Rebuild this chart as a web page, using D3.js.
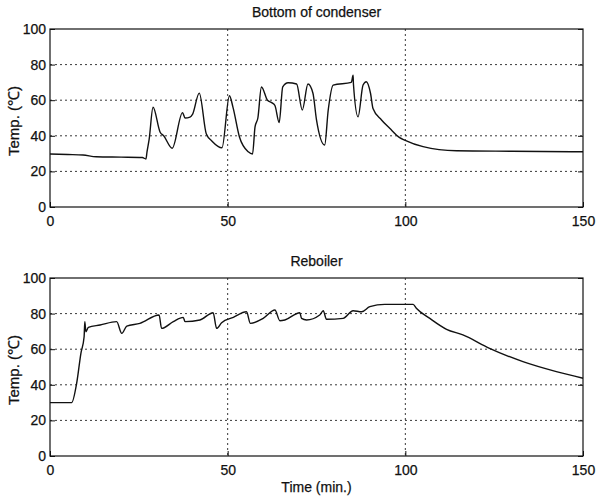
<!DOCTYPE html>
<html>
<head>
<meta charset="utf-8">
<script src="https://cdn.jsdelivr.net/npm/d3@7"></script>
<style>
  body { margin: 0; background: #fff; }
  text { font-family: "Liberation Sans", Arial, sans-serif; fill: #111; stroke: #111; stroke-width: 0.25px; }
  .tick text { font-size: 14px; }
  .grid line { stroke: #222; stroke-width: 0.9; stroke-dasharray: 2,3; }
</style>
</head>
<body>
<svg width="596" height="497"></svg>
<script>
// time (min) and temperature (deg C)
const condTime = [0, 5, 9.3, 13, 20, 26, 27, 27.3, 27.9, 29, 31, 32, 34.4, 37.3, 38, 39.4, 40.1, 42, 44, 45.6, 48.4,
  50.5, 51.5, 53.3, 55.8, 57, 57.7, 58.5, 59.5, 61.2, 62.5, 63.3, 64.5, 65.5, 67, 69.4, 71, 72.6, 74, 75, 77.3,
  78.3, 79.7, 84.8, 85.3, 85.4, 86.7, 88.1, 89, 90.2, 90.9, 93.3, 95.6, 98.4, 99.8, 105, 114.4, 130, 150];
const condTemp = [29.8, 29.5, 29.2, 28.2, 28, 27.8, 27, 31, 38, 56, 42, 40, 33, 53, 50, 50.5, 52, 64, 41, 37, 33.3,
  62.5, 56, 39.5, 31, 29.8, 45, 50, 67.4, 60, 58.5, 57, 47.5, 67.5, 69.8, 69.1, 54.5, 69.1, 63.9, 48.9, 34.8,
  54.5, 68.5, 70, 74, 69, 50.7, 68.5, 70.4, 63.9, 55.4, 48.9, 44.2, 39, 37.6, 33.9, 31.6, 31.3, 31];

const reboTime = [0, 6.1, 7.5, 8.7, 9.6, 9.8, 10.1, 10.8, 14.1, 18.75, 20.2, 21.6, 25.3, 30.7, 31.4, 34.7, 37.5,
  38, 42.2, 45.9, 46.9, 48.3, 51.6, 55.3, 56.4, 60, 63.3, 64.7, 66.1, 70.3, 70.8, 72.2, 75.9, 76.9, 77.8, 82.5,
  85.3, 87.7, 90, 94.2, 102.2, 103.1, 106.9, 111.6, 116.2, 123.7, 133.1, 142.5, 150];
const reboTemp = [30, 30, 40.8, 57.7, 67, 75.5, 69.8, 72.3, 73.6, 75.5, 68.9, 73, 74.5, 79.2, 71.7, 75.5, 77.9,
  75.5, 76.4, 80.5, 71.7, 74.9, 77.9, 81, 74.5, 77.3, 82, 76, 76.4, 80.5, 77.3, 76.4, 79.2, 81.6, 76.8, 77.3,
  81.6, 81, 83.9, 85.2, 85.2, 83, 77.3, 71.2, 68, 60.5, 53, 47.4, 43.7];

const xTicks = [0, 50, 100, 150];
const yTicks = [0, 20, 40, 60, 80, 100];

const svg = d3.select("svg");
const left = 50, right = 583;

const x = d3.scaleLinear().domain([0, 150]).range([left, right]);

function panel(top, bottom, title, times, temps, showXLabel) {
  const y = d3.scaleLinear().domain([0, 100]).range([bottom, top]);
  const g = svg.append("g");

  // grid
  g.append("g").attr("class", "grid")
    .selectAll("line").data(yTicks.slice(1, -1)).join("line")
    .attr("x1", left).attr("x2", right)
    .attr("y1", d => y(d)).attr("y2", d => y(d));
  g.append("g").attr("class", "grid")
    .selectAll("line").data(xTicks.slice(1, -1)).join("line")
    .attr("x1", d => x(d)).attr("x2", d => x(d))
    .attr("y1", top).attr("y2", bottom);

  // axes
  g.append("g")
    .attr("transform", "translate(0," + bottom + ")")
    .call(d3.axisBottom(x).tickValues(xTicks).tickSize(-5).tickPadding(9))
    .call(a => a.select(".domain").remove());
  g.append("g")
    .attr("transform", "translate(" + left + ",0)")
    .call(d3.axisLeft(y).tickValues(yTicks).tickSize(-5).tickPadding(4))
    .call(a => a.select(".domain").remove());
  g.append("g")
    .attr("transform", "translate(" + right + ",0)")
    .call(d3.axisRight(y).tickValues(yTicks).tickSize(-5).tickFormat(""))
    .call(a => a.select(".domain").remove());
  g.selectAll(".tick line").attr("stroke", "#111");

  g.append("rect")
    .attr("x", left).attr("y", top)
    .attr("width", right - left).attr("height", bottom - top)
    .attr("fill", "none").attr("stroke", "#111").attr("stroke-width", 1.2);

  const line = d3.line()
    .x((d, i) => x(times[i]))
    .y(d => y(d))
    .curve(d3.curveMonotoneX);

  g.append("path")
    .datum(temps)
    .attr("d", line)
    .attr("fill", "none")
    .attr("stroke", "#111")
    .attr("stroke-width", 1.4)
    .attr("stroke-linejoin", "round");

  g.append("text")
    .attr("x", (left + right) / 2).attr("y", top - 12)
    .attr("text-anchor", "middle")
    .style("font-size", "14px")
    .text(title);

  g.append("text")
    .attr("transform", "translate(19," + ((top + bottom) / 2 + 3) + ") rotate(-90)")
    .attr("text-anchor", "middle")
    .style("font-size", "15px")
    .text("Temp. (\u2103)");

  if (showXLabel) {
    g.append("text")
      .attr("x", (left + right) / 2).attr("y", bottom + 36)
      .attr("text-anchor", "middle")
      .style("font-size", "14px")
      .text("Time (min.)");
  }
}

panel(29, 207, "Bottom of condenser", condTime, condTemp, false);
panel(278, 456, "Reboiler", reboTime, reboTemp, true);
</script>
</body>
</html>
